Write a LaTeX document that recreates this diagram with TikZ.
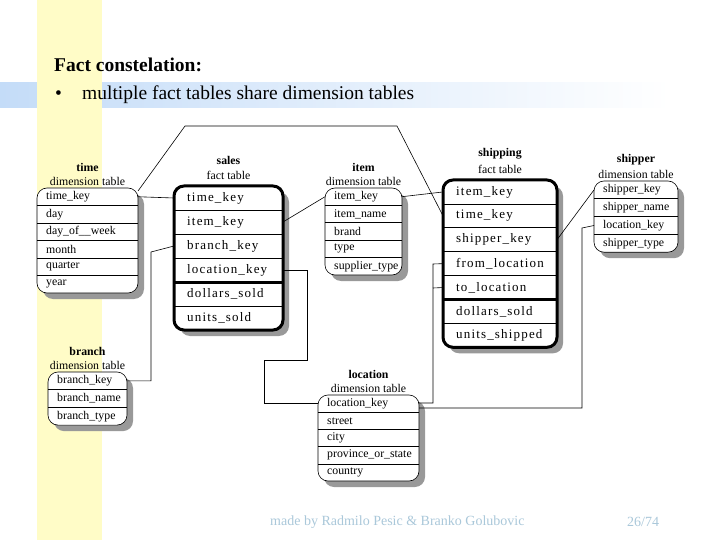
\documentclass[tikz,border=0pt]{standalone}
\usepackage{fontspec}
\setmainfont{Liberation Serif}
\newfontfamily\spaced[LetterSpace=9]{Liberation Serif}
\definecolor{band}{RGB}{196,220,248}
\definecolor{foot}{RGB}{170,200,218}
\begin{document}
\begin{tikzpicture}[x=1pt,y=-1pt,
  conn/.style={draw=black,line width=0.6pt},
  dimrow/.style={font=\fontsize{11.8}{13}\selectfont,inner sep=0pt,anchor=west},
  factrow/.style={font=\spaced\fontsize{13}{15}\selectfont,inner sep=0pt,anchor=west},
  ttl/.style={font=\bfseries\fontsize{11.8}{13}\selectfont,inner sep=0pt},
  sub/.style={font=\fontsize{11.8}{13}\selectfont,inner sep=0pt},
  shadowc/.style={fill=black!40},
]
\useasboundingbox (0,0) rectangle (720,540);
\fill[white] (0,0) rectangle (720,540);
\shade[left color=band, right color=white] (0,83) rectangle (670,108);
\fill[yellow!22] (37,0) rectangle (102,540);
\node[anchor=west,font=\bfseries\fontsize{19.5}{22}\selectfont,inner sep=0pt] (hdr) at (54,65) {Fact constelation:};
\node[anchor=west,font=\fontsize{19.5}{22}\selectfont,inner sep=0pt] (bul) at (55,95) {•};
\node[anchor=west,font=\fontsize{19.5}{22}\selectfont,inner sep=0pt] (btx) at (82,95) {multiple fact tables share dimension tables};

% #1 id #2 x1 #3 x2 #4 top #5 h #6 n #7 title #8 sub #9 rows
\newcommand\mytbl[9]{%
  \fill[shadowc,rounded corners=10] (#2+6,#4+6) rectangle (#3+6,{#4+#6*#5+6});
  \draw[fill=white,rounded corners=10,line width=\tlw] (#2,#4) rectangle (#3,{#4+#6*#5});
  \foreach \k in {1,...,\numexpr#6-1\relax}{\draw[line width=0.6pt] (#2,{#4+\k*#5}) -- (#3,{#4+\k*#5});}
  \foreach \r [count=\i] in {#9}{%
    \node[\rowst] (#1-\i) at (#2+\rin,{#4+(\i-0.5)*#5}) {\r};
    \coordinate (#1-\i-w) at (#2,{#4+(\i-0.5)*#5});
    \coordinate (#1-\i-e) at (#3,{#4+(\i-0.5)*#5});}
  \node[ttl] (#1-t) at ({(#2+#3)/2},#4-\tof) {#7};
  \node[sub] (#1-s) at ({(#2+#3)/2},#4-\sof) {#8};
}
\def\tlw{0.6pt}\def\rowst{dimrow}\def\tof{21}\def\sof{7}\def\rin{9}
\mytbl{time}{37}{138}{188}{17.5}{6}{time}{dimension table}{time\_key,day,day\_of\_\_week,month,quarter,year}
\mytbl{item}{325}{402}{188}{17.4}{5}{item}{dimension table}{item\_key,item\_name,brand,type,supplier\_type}
\mytbl{shipper}{594}{678}{181}{17.8}{4}{shipper}{dimension table}{shipper\_key,shipper\_name,location\_key,shipper\_type}
\mytbl{branch}{48}{127}{372}{17.7}{3}{branch}{dimension table}{branch\_key,branch\_name,branch\_type}
\mytbl{loc}{318}{419}{395}{17.2}{5}{location}{dimension table}{location\_key,street,city,province\_or\_state,country}
\def\tlw{3pt}\def\rowst{factrow}\def\tof{26}\def\sof{11}\def\rin{13}
\mytbl{sales}{174}{283}{186}{24}{6}{sales}{fact table}{time\_key,item\_key,branch\_key,location\_key,dollars\_sold,units\_sold}
\draw[line width=3pt] (174,282) -- (283,282);
\mytbl{ship}{443}{557}{180}{23.9}{7}{shipping}{fact table}{item\_key,time\_key,shipper\_key,from\_location,to\_location,dollars\_sold,units\_shipped}
\draw[line width=3pt] (443,299.5) -- (557,299.5);

\coordinate (c1) at (185,126); \coordinate (c2) at (397,126);
\draw[conn] (time-1-e) -- (sales-1-w);
\draw[conn] (138,191) -- (c1) -- (c2) -- (ship-2-w);
\draw[conn] (sales-2-e) -- (item-1-w);
\draw[conn] (branch-1-e) -| (151,252) -- (sales-3-w);
\draw[conn] (sales-4-e) -| (307,360) -| (264,403) -- (318,403);
\draw[conn] (item-1-e) -- (ship-1-w);
\draw[conn] (ship-3-e) -- (shipper-1-w);
\draw[conn] (419,403) -| (433,264) -- (ship-4-w);
\draw[conn] (433,288) -- (ship-5-w);
\draw[conn] (419,408) -| (582,228) -- (shipper-3-w);

\node[anchor=west,font=\fontsize{14}{16}\selectfont,text=foot,inner sep=0pt] (ft) at (270,522) {made by Radmilo Pesic \& Branko Golubovic};
\node[anchor=west,font=\fontsize{14}{16}\selectfont,text=foot,inner sep=0pt] (pg) at (627,522) {26/74};
\end{tikzpicture}
\end{document}
